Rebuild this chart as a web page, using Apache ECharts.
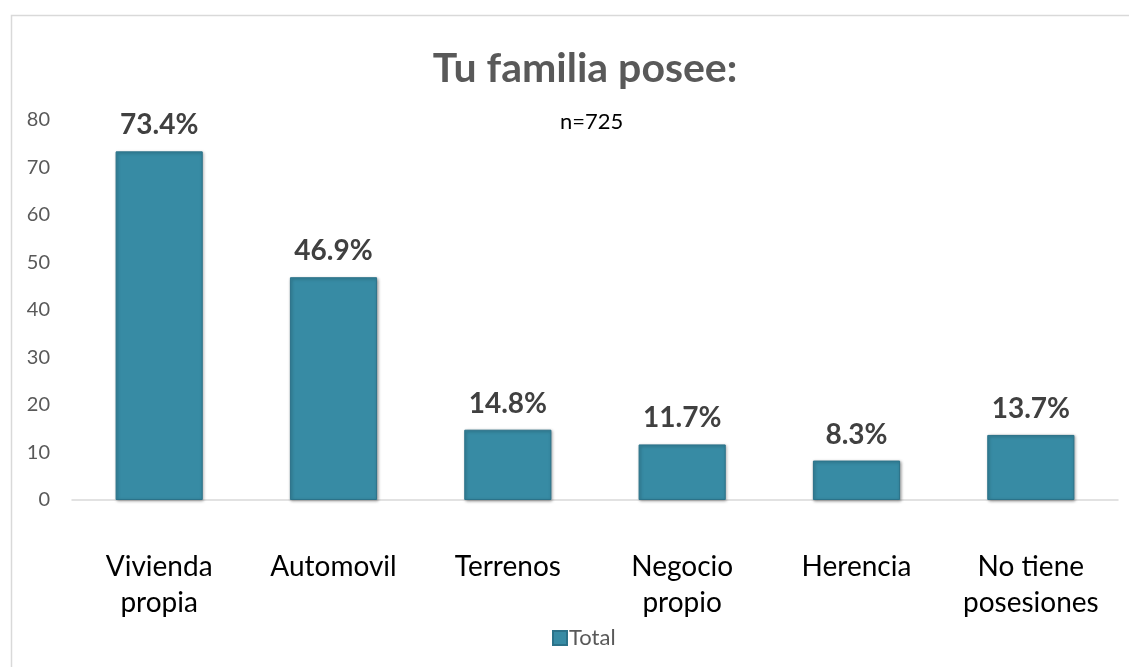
<!DOCTYPE html>
<html>
<head>
<meta charset="utf-8">
<script src="https://cdn.jsdelivr.net/npm/echarts@6/dist/echarts.min.js"></script>
<style>
  html, body { margin: 0; padding: 0; background: #fff; }
  #main { width: 1129px; height: 667px; }
</style>
</head>
<body>
<div id="main"></div>
<script>
let categories = ['Vivienda\npropia', 'Automovil', 'Terrenos', 'Negocio\npropio', 'Herencia', 'No tiene\nposesiones'];
let totals = [73.4, 46.9, 14.8, 11.7, 8.3, 13.7];
let yTicks = [0, 10, 20, 30, 40, 50, 60, 70, 80];

let fontName = 'Lato, "Open Sans", sans-serif';

let myChart = echarts.init(document.getElementById('main'));
let option = {
    backgroundColor: 'white',
    textStyle: { fontFamily: fontName },
    graphic: [{
        type: 'rect',
        shape: { x: 11.5, y: 15.5, width: 1130, height: 700 },
        style: { fill: 'none', stroke: '#d9d9d9', lineWidth: 1.5 },
        silent: true
    }],
    title: [{
        text: 'Tu familia posee:',
        left: 580,
        textAlign: 'center',
        top: 43,
        textStyle: { fontSize: 41, fontWeight: 'bold', color: '#595959', fontFamily: fontName }
    }, {
        text: 'n=725',
        left: 555,
        top: 106,
        textStyle: { fontSize: 22, fontWeight: 'normal', color: '#000', fontFamily: fontName }
    }],
    legend: {
        bottom: 13,
        left: 547,
        itemWidth: 14,
        itemHeight: 14,
        itemGap: 4,
        textStyle: { fontSize: 22, color: '#595959', fontFamily: fontName, padding: [0, 0, 0, -3] },
        data: [{ name: 'Total', icon: 'rect' }]
    },
    grid: { left: 72, right: 11, top: 120, bottom: 167 },
    xAxis: {
        type: 'category',
        data: categories,
        axisTick: { show: false },
        axisLine: { lineStyle: { color: '#d9d9d9', width: 1.5 } },
        axisLabel: {
            fontSize: 28,
            color: '#000',
            lineHeight: 36,
            margin: 49,
            interval: 0,
            fontFamily: fontName
        }
    },
    yAxis: {
        type: 'value',
        min: yTicks[0],
        max: yTicks[yTicks.length - 1],
        interval: 10,
        splitLine: { show: false },
        axisLine: { show: false },
        axisTick: { show: false },
        axisLabel: { fontSize: 20, color: '#595959', margin: 22, fontFamily: fontName }
    },
    series: [{
        name: 'Total',
        type: 'bar',
        data: totals,
        barWidth: '50%',
        itemStyle: {
            color: '#378ba4',
            borderColor: '#2b7289',
            borderWidth: 1,
            shadowColor: 'rgba(0,0,0,0.35)',
            shadowBlur: 3,
            shadowOffsetX: 1,
            shadowOffsetY: 1
        },
        label: {
            show: true,
            position: 'top',
            distance: 12,
            formatter: (p) => p.value.toFixed(1) + '%',
            fontSize: 28,
            fontWeight: 'bold',
            color: '#404040',
            fontFamily: fontName
        }
    }]
};
myChart.setOption(option);
</script>
</body>
</html>
